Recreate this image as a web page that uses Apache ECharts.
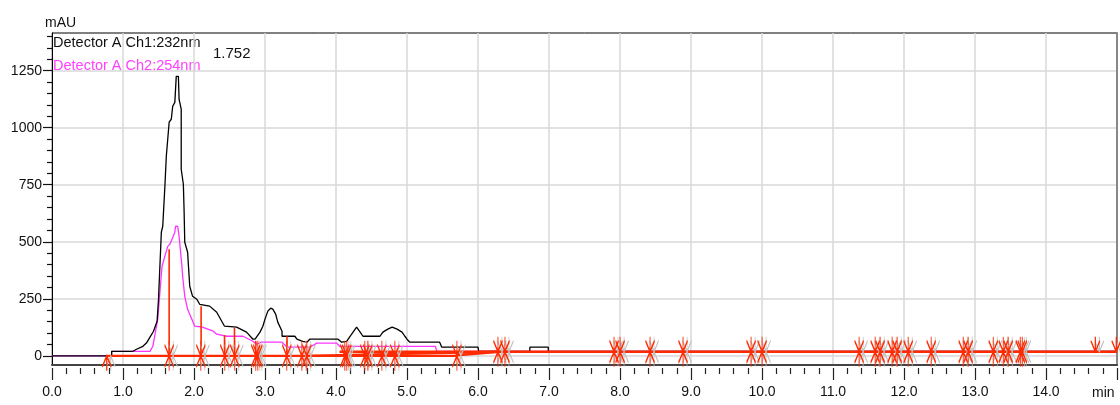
<!DOCTYPE html>
<html><head><meta charset="utf-8">
<script src="https://cdn.jsdelivr.net/npm/echarts@6/dist/echarts.min.js"></script>
<style>html,body{margin:0;padding:0;background:#fff}#c{width:1120px;height:405px}</style>
</head><body><div id="c"></div>
<script>
// ---- data (minutes, mAU) ----
const ch1Time = [0,0.84,0.84,1.14,1.19,1.28,1.33,1.38,1.43,1.48,1.50,1.54,1.56,1.59,1.61,1.65,1.68,1.70,1.73,1.75,1.78,1.79,1.82,1.82,1.85,1.86,1.87,1.91,1.94,1.98,2.04,2.08,2.22,2.32,2.43,2.60,2.74,2.83,2.86,2.93,2.97,3.00,3.04,3.08,3.11,3.15,3.18,3.24,3.24,3.42,3.45,3.53,3.59,3.63,4.03,4.08,4.15,4.20,4.24,4.29,4.34,4.38,4.62,4.66,4.73,4.79,4.86,4.93,4.97,5.00,5.04,5.46,5.49,6.00,6.01,6.73,6.73,6.99,6.99,15];
const ch1Value = [0,0,20,20,29,42,56,82,108,152,248,542,568,743,875,1024,1037,1094,1111,1225,1225,1124,1081,818,752,643,498,454,305,261,248,226,218,191,130,126,104,73,73,104,130,161,196,209,205,183,148,108,86,86,73,64,60,73,73,60,64,86,104,126,104,86,86,104,117,126,117,104,86,73,60,60,38,38,20,20,38,38,20,20];
const ch2Time = [0,0.84,0.84,1.38,1.42,1.49,1.52,1.55,1.59,1.63,1.66,1.69,1.73,1.74,1.77,1.79,1.83,1.84,1.87,1.91,1.97,2.01,2.12,2.27,2.32,2.46,2.69,2.83,2.88,2.95,3.24,3.31,3.63,3.73,4.01,4.05,5.40,5.42,15];
const ch2Value = [0,0,20,20,42,161,279,393,437,480,489,511,542,568,568,524,393,349,261,204,161,130,126,108,95,86,86,64,51,60,60,38,38,56,56,42,42,20,20];

const yMajorTicks = [0,250,500,750,1000,1250];
const yMinorTicks = [50,100,150,200,300,350,400,450,550,600,650,700,800,850,900,950,1050,1100,1150,1200,1300,1350,1400];

const dropTimes  = [1.65,2.10,2.43,2.57,2.87,3.31];
const dropValues = [467,218,91,124,64,86];

const markerTimes = [0.771,1.650,2.096,2.434,2.574,2.870,2.899,3.307,3.519,3.589,4.124,4.152,4.406,4.448,4.646,4.829,5.703,6.281,6.380,7.916,8.001,8.423,8.888,9.846,10.001,11.368,11.594,11.664,11.833,11.904,12.059,12.383,12.834,12.904,13.257,13.398,13.468,13.638,13.666,14.695,14.99];
const markerValues = [0,0,0,0,0,0,0,0,0,0,0,0,0,0,0,0,0,18,18,18,18,18,18,18,18,18,18,18,18,18,18,18,18,18,18,18,18,18,18,18,18];
const markerKinds = ['up','both','both','both','both','both','both','both','both','both','both','both','both','both','both','both','both','both','both','both','both','both','both','both','both','both','both','both','both','both','both','both','both','both','both','both','both','both','both','down','down'];

const baseFromT = [0.77,3.59,4.05,5.70];
const baseFromV = [0,0,18,3];
const baseToT   = [5.70,6.28,15,6.30];
const baseToV   = [0,18,18,18];

// ---- build ----
const RED = '#ff2a00';
const FONT = '"Liberation Sans", Arial, sans-serif';
const symBoth = 'path://M0,-15L0,15M-4.5,-11L0,0L4.5,-11M-4.5,11L0,0L4.5,11';
const symUp   = 'path://M0,0L0,15M-4.5,11L0,0L4.5,11';
const symDown = 'path://M0,-15L0,0M-4.5,-11L0,0L4.5,-11';
function markerData(dx){
  return markerTimes.map((t,i)=>{
    const k = markerKinds[i];
    if(k==='both') return {value:[t,markerValues[i]], symbol:symBoth, symbolSize:[9,30], symbolOffset:[dx,0]};
    if(k==='up') return {value:[t,markerValues[i]], symbol:symUp, symbolSize:[9,15], symbolOffset:[dx,7.5]};
    return {value:[t,markerValues[i]], symbol:symDown, symbolSize:[9,15], symbolOffset:[dx,-7.5]};
  });
}

const baseSeries = baseFromT.map((t,i)=>({
  type:'line',z:4,symbol:'none',silent:true,
  lineStyle:{color:RED,width:2.4},
  data:[[t,baseFromV[i]],[baseToT[i],baseToV[i]]]
}));
const dropSeries = dropTimes.map((t,i)=>({
  type:'line',z:4,symbol:'none',silent:true,
  lineStyle:{color:RED,width:1.6},
  data:[[t,0],[t,dropValues[i]]]
}));

const chart = echarts.init(document.getElementById('c'), null, {renderer:'canvas'});
const option = {
  animation:false,
  backgroundColor:'#fff',
  grid:{left:52,right:3,top:33,bottom:40,show:true,borderColor:'#000',borderWidth:1,backgroundColor:'transparent'},
  xAxis:[
    {type:'value',min:0,max:15,interval:1,position:'bottom',
     axisLine:{show:true,onZero:false,lineStyle:{color:'#444',width:2}},
     axisTick:{show:false},axisLabel:{show:false},
     splitLine:{show:true,lineStyle:{color:'#d9d9d9',width:1.5}}},
    {type:'value',min:0,max:15,interval:1,position:'bottom',offset:3,
     axisLine:{show:false,onZero:false},
     axisTick:{show:true,length:12,lineStyle:{color:'#222',width:1.2}},
     minorTick:{show:true,splitNumber:5,length:6,lineStyle:{color:'#222',width:1.2}},
     splitLine:{show:false},
     axisLabel:{show:true,margin:17,fontSize:14,fontFamily:FONT,color:'#111',
       formatter:v=> v>=15 ? '' : v.toFixed(1)}}
  ],
  yAxis:[
    {type:'value',min:-40,max:1415,position:'left',
     axisLine:{show:true,onZero:false,lineStyle:{color:'#000',width:1}},
     axisTick:{show:true,length:9,customValues:yMajorTicks,lineStyle:{color:'#111',width:1.2}},
     axisLabel:{show:true,margin:10,fontSize:14,fontFamily:FONT,color:'#111',customValues:yMajorTicks,
       formatter:v=>String(v)},
     splitLine:{show:false}},
    {type:'value',min:-40,max:1415,position:'left',
     axisLine:{show:false,onZero:false},
     axisTick:{show:true,length:5,customValues:yMinorTicks,lineStyle:{color:'#111',width:1.2}},
     axisLabel:{show:false},splitLine:{show:false}},
    {type:'value',min:-40,max:1415,position:'right',
     axisLine:{show:true,onZero:false,lineStyle:{color:'#888',width:2}},
     axisTick:{show:false},axisLabel:{show:false},splitLine:{show:false}}
  ],
  series:[
    {type:'line',data:[],z:0,silent:true,
     markLine:{z:0,silent:true,symbol:['none','none'],label:{show:false},
       lineStyle:{color:'#d9d9d9',width:1.5,type:'solid'},
       data:yMajorTicks.map(v=>({yAxis:v}))}},
    {name:'Ch2',type:'line',z:2,symbol:'none',
     lineStyle:{color:'#ff33ff',width:1.3},
     data:ch2Time.map((t,i)=>[t,ch2Value[i]])},
    {name:'Ch1',type:'line',z:3,symbol:'none',
     lineStyle:{color:'#000',width:1.3},
     data:ch1Time.map((t,i)=>[t,ch1Value[i]])},
    ...baseSeries,
    ...dropSeries,
    {type:'scatter',z:4,silent:true,
     itemStyle:{color:'rgba(0,0,0,0)',borderColor:'#c0c0c0',borderWidth:1.3,opacity:1},
     data:markerData(4)},
    {type:'scatter',z:5,silent:true,
     itemStyle:{color:'rgba(0,0,0,0)',borderColor:RED,borderWidth:1.6,opacity:1},
     data:markerData(0)}
  ],
  graphic:[
    {type:'text',left:45,top:16,style:{text:'mAU',font:'14px '+FONT,fill:'#111'}},
    {type:'text',left:53,top:35,style:{text:'Detector A Ch1:232nm',font:'14.5px '+FONT,fill:'#111'}},
    {type:'text',left:53,top:58,style:{text:'Detector A Ch2:254nm',font:'14.5px '+FONT,fill:'#ff40ff'}},
    {type:'text',left:213,top:46,style:{text:'1.752',font:'15px '+FONT,fill:'#111'}},
    {type:'text',left:1092,top:386,style:{text:'min',font:'14px '+FONT,fill:'#111'}}
  ]
};
chart.setOption(option);
</script>
</body></html>
